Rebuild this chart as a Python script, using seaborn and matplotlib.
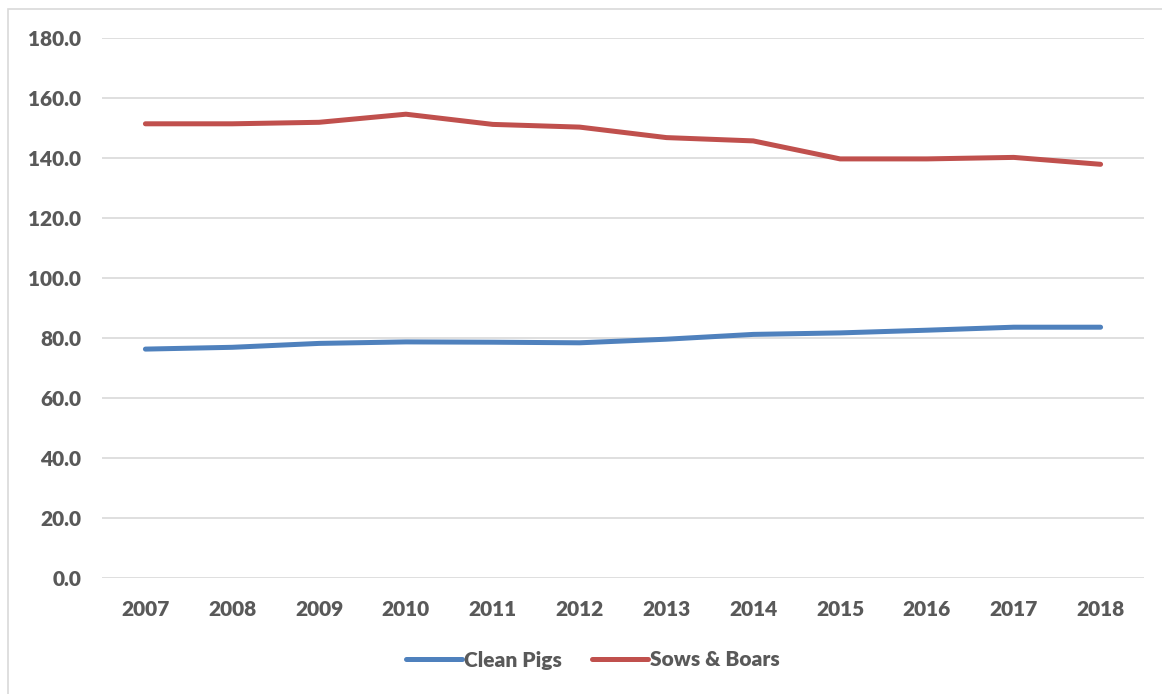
import matplotlib
matplotlib.use("Agg")
import matplotlib.pyplot as plt
import seaborn as sns
import pandas as pd
from matplotlib.patches import Rectangle

years = ["2007", "2008", "2009", "2010", "2011", "2012", "2013", "2014", "2015", "2016", "2017", "2018"]
clean_pigs = [76.3, 76.9, 78.2, 78.7, 78.6, 78.4, 79.6, 81.2, 81.7, 82.6, 83.6, 83.6]
sows_boars = [151.4, 151.4, 151.9, 154.6, 151.2, 150.3, 146.8, 145.7, 139.7, 139.7, 140.2, 137.9]
series_names = ["Clean Pigs", "Sows & Boars"]
y_ticks = [0, 20, 40, 60, 80, 100, 120, 140, 160, 180]

df = pd.DataFrame({
    "Year": years * 2,
    "Value": clean_pigs + sows_boars,
    "Series": [series_names[0]] * len(years) + [series_names[1]] * len(years),
})

sns.set_style("white")
plt.rcParams["font.family"] = ["Lato", "DejaVu Sans"]

FS = 15
WEIGHT = "heavy"

fig = plt.figure(figsize=(11.62, 6.94), dpi=100)
ax = fig.add_axes([102 / 1162, 1 - 578 / 694, (1144 - 102) / 1162, (578 - 38) / 694])

palette = {"Clean Pigs": "#4F81BD", "Sows & Boars": "#C0504D"}
sns.lineplot(data=df, x="Year", y="Value", hue="Series", palette=palette,
             linewidth=3.6, ax=ax, sort=False, legend=True,
             solid_capstyle="round")

ax.set_xlim(-0.5, len(years) - 0.5)
ax.set_ylim(0, 180)
ax.set_yticks(y_ticks)
ax.set_yticklabels([f"{v:.1f}" for v in y_ticks])
ax.yaxis.grid(True, color="#D9D9D9", linewidth=1.2)
ax.set_axisbelow(True)
for s in ax.spines.values():
    s.set_visible(False)
ax.tick_params(axis="both", length=0, labelsize=FS, labelcolor="#595959")
ax.tick_params(axis="y", pad=15)
ax.tick_params(axis="x", pad=16)
for lab in ax.get_xticklabels() + ax.get_yticklabels():
    lab.set_fontweight(WEIGHT)
ax.set_xlabel("")
ax.set_ylabel("")

handles, labels = ax.get_legend_handles_labels()
ax.get_legend().remove()
leg = fig.legend(handles, labels, loc="center", bbox_to_anchor=(593 / 1162, 1 - 660 / 694),
                 ncol=2, frameon=False, handlelength=2.7, handletextpad=0.1,
                 columnspacing=1.45, prop={"size": FS, "weight": WEIGHT})
for t in leg.get_texts():
    t.set_color("#595959")
for h in leg.get_lines():
    h.set_linewidth(3.6)

fig.patches.append(Rectangle((8 / 1162, -0.05), 1.1, 1 - 9 / 694 + 0.05,
                             transform=fig.transFigure, fill=False,
                             edgecolor="#D9D9D9", linewidth=1.2))

fig.savefig("out.png", dpi=100)
